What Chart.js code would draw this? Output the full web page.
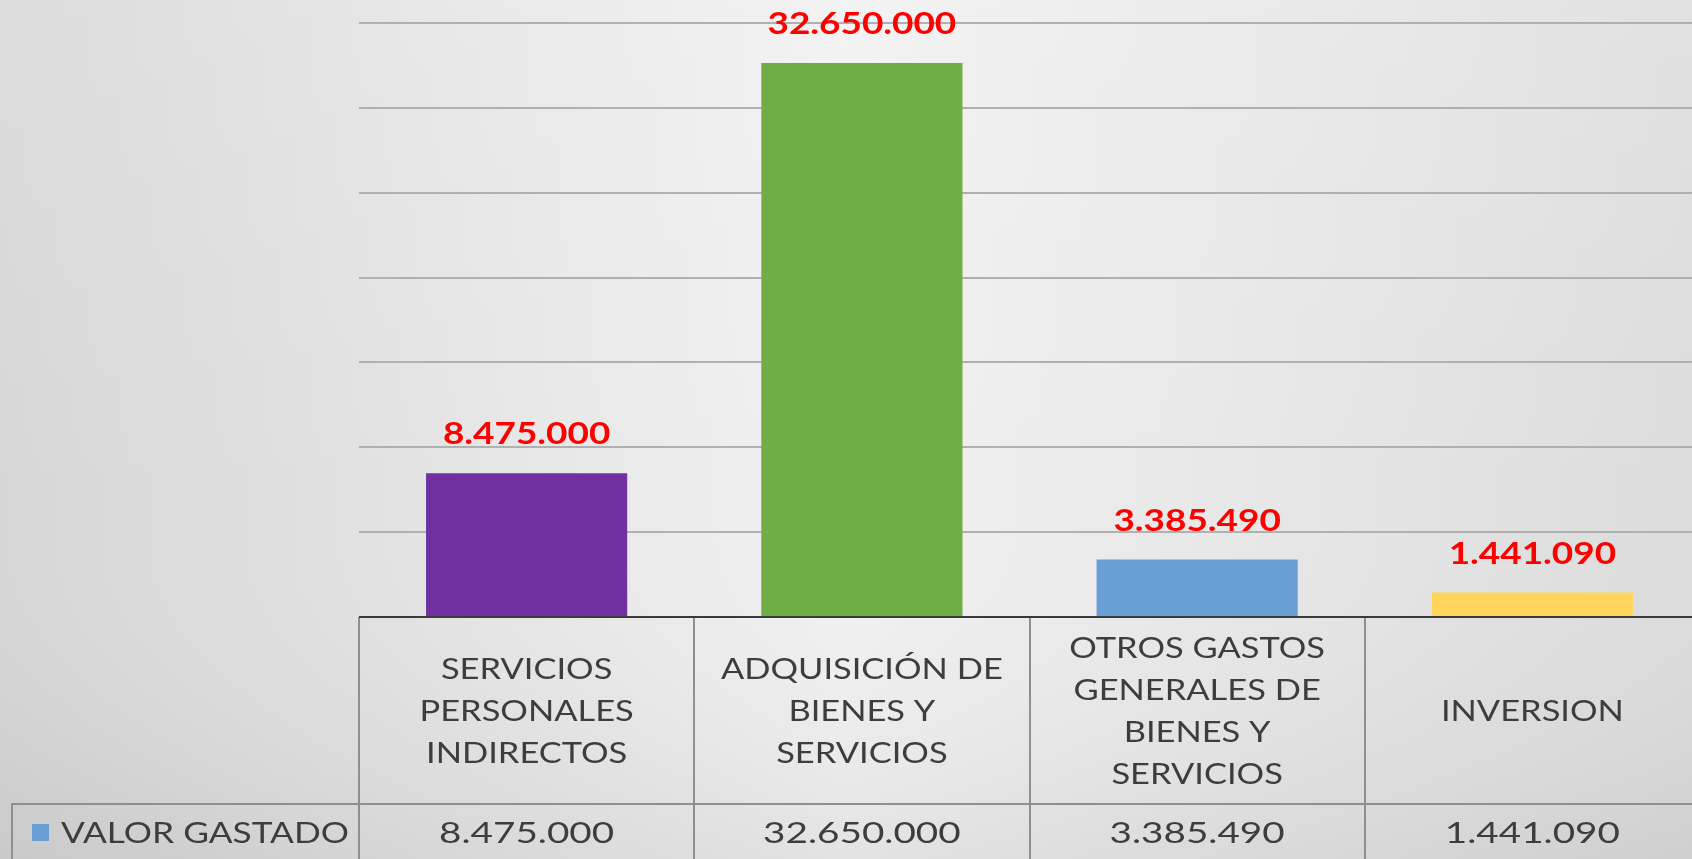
<!DOCTYPE html>
<html>
<head>
<meta charset="utf-8">
<script src="https://cdn.jsdelivr.net/npm/chart.js@4/dist/chart.umd.min.js"></script>
<style>
html,body{margin:0;padding:0;background:#e6e6e6;overflow:hidden;width:1692px;height:859px;}
canvas{display:block;}
</style>
</head>
<body>
<canvas id="c" width="1700" height="859"></canvas>
<script>
// ---- data ----
const categories = [
  ["SERVICIOS", "PERSONALES", "INDIRECTOS"],
  ["ADQUISICIÓN DE", "BIENES Y", "SERVICIOS"],
  ["OTROS GASTOS", "GENERALES DE", "BIENES Y", "SERVICIOS"],
  ["INVERSION"]
];
const seriesName = "VALOR GASTADO";
const valorGastado = [8475000, 32650000, 3385490, 1441090];
const yMin = 0;
const yMax = 35000000;
const yStep = 5000000;

// ---- styles ----
const barColors = ["#7030A0", "#70AD47", "#6A9FD6", "#FFD55C"];
const legendKeyColor = "#6A9FD6";
const FONT = "Lato, 'Open Sans', sans-serif";

function fmt(n) {
  const s = Math.round(n).toString();
  return s.replace(/\B(?=(\d{3})+(?!\d))/g, ".");
}

// draw text horizontally stretched (the reference image is widened)
function drawText(ctx, t, x, y, sx) {
  ctx.save();
  ctx.translate(x, y);
  ctx.scale(sx, 1);
  ctx.fillText(t, 0, 0);
  ctx.restore();
}

const bgPlugin = {
  id: 'bg',
  beforeDraw(chart) {
    const ctx = chart.ctx;
    const w = 1692, h = chart.height;
    ctx.save();
    const g = ctx.createLinearGradient(0, 0, w, 0);
    g.addColorStop(0, '#d6d6d6');
    g.addColorStop(0.5, '#f1f1f1');
    g.addColorStop(1, '#dcdcdc');
    ctx.fillStyle = g;
    ctx.fillRect(0, 0, chart.width, h);
    const g2 = ctx.createLinearGradient(0, 0, 0, h);
    g2.addColorStop(0, 'rgba(255,255,255,0.15)');
    g2.addColorStop(0.6, 'rgba(255,255,255,0)');
    g2.addColorStop(1, 'rgba(0,0,0,0.06)');
    ctx.fillStyle = g2;
    ctx.fillRect(0, 0, chart.width, h);
    ctx.restore();
  }
};

const tablePlugin = {
  id: 'table',
  afterDraw(chart) {
    const ctx = chart.ctx;
    const ca = chart.chartArea;
    const xs = chart.scales.x;
    const meta = chart.getDatasetMeta(0);
    const n = categories.length;
    const catW = (ca.right - ca.left) / n;
    const rowTop = ca.bottom;
    const rowMid = 804;
    const rowBot = chart.height;

    ctx.save();
    // data labels above bars
    ctx.fillStyle = '#FF0000';
    ctx.font = "bold 30px " + FONT;
    ctx.textAlign = 'center';
    ctx.textBaseline = 'alphabetic';
    meta.data.forEach((bar, i) => {
      drawText(ctx, fmt(valorGastado[i]), bar.x, bar.y - 29, 1.23);
    });

    // table lines
    ctx.strokeStyle = '#8f8f8f';
    ctx.lineWidth = 2;
    ctx.beginPath();
    ctx.moveTo(11, rowMid); ctx.lineTo(ca.right, rowMid);
    ctx.moveTo(12, rowMid); ctx.lineTo(12, rowBot);
    for (let i = 0; i < n; i++) {
      const x = Math.round(xs.getPixelForValue(i) - catW / 2);
      ctx.moveTo(x, rowTop); ctx.lineTo(x, rowBot);
    }
    ctx.stroke();

    // axis line
    ctx.strokeStyle = '#3a3a3a';
    ctx.lineWidth = 2;
    ctx.beginPath();
    ctx.moveTo(ca.left, rowTop); ctx.lineTo(ca.right, rowTop);
    ctx.stroke();

    // category labels
    ctx.fillStyle = '#3d3d3d';
    ctx.font = "28px " + FONT;
    ctx.textBaseline = 'middle';
    const lh = 42;
    categories.forEach((lines, i) => {
      const cx = xs.getPixelForValue(i);
      const cy = (rowTop + rowMid) / 2 + 1;
      const y0 = cy - (lines.length - 1) * lh / 2;
      lines.forEach((t, k) => drawText(ctx, t, cx, y0 + k * lh, 1.23));
    });

    // value row
    const vy = (rowMid + rowBot) / 2 + 2;
    valorGastado.forEach((v, i) => {
      drawText(ctx, fmt(v), xs.getPixelForValue(i), vy, 1.38);
    });

    // legend key + series name
    ctx.fillStyle = legendKeyColor;
    ctx.fillRect(32, 824, 17, 17);
    ctx.fillStyle = '#3d3d3d';
    ctx.textAlign = 'left';
    drawText(ctx, seriesName, 61, vy, 1.26);
    ctx.restore();
  }
};

new Chart(document.getElementById('c'), {
  type: 'bar',
  data: {
    labels: categories.map(c => c.join(' ')),
    datasets: [{
      label: seriesName,
      data: valorGastado,
      backgroundColor: barColors,
      borderWidth: 0,
      categoryPercentage: 0.6,
      barPercentage: 1.0
    }]
  },
  options: {
    responsive: false,
    devicePixelRatio: 1,
    animation: false,
    layout: { padding: { left: 359, right: 0, top: 23, bottom: 242 } },
    plugins: { legend: { display: false }, tooltip: { enabled: false }, title: { display: false } },
    scales: {
      x: {
        grid: { display: false, drawTicks: false },
        ticks: { display: false },
        border: { display: false }
      },
      y: {
        min: yMin, max: yMax,
        ticks: { display: false, stepSize: yStep },
        grid: { color: '#b0b0b0', lineWidth: 2, drawTicks: false },
        border: { display: false }
      }
    }
  },
  plugins: [bgPlugin, tablePlugin]
});
</script>
</body>
</html>
